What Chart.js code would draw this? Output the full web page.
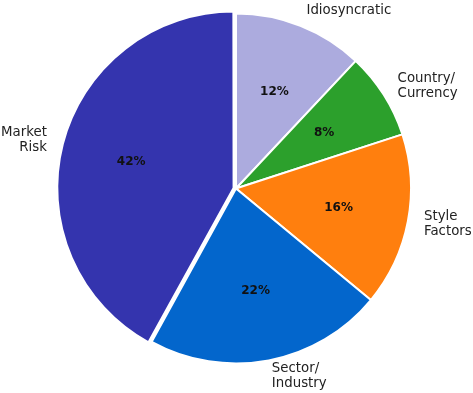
<!DOCTYPE html>
<html>
<head>
<meta charset="utf-8">
<script src="https://cdn.jsdelivr.net/npm/chart.js@4.4.1/dist/chart.umd.min.js"></script>
<style>
  html, body { margin: 0; padding: 0; background: #fff; }
  #pieCanvas { display: block; }
</style>
</head>
<body>
<canvas id="pieCanvas" width="473" height="393"></canvas>
<script>
// slices go clockwise from 12 o'clock
var labels = [['Idiosyncratic'], ['Country/', 'Currency'], ['Style', 'Factors'], ['Sector/', 'Industry'], ['Market', 'Risk']];
var shares = [12, 8, 16, 22, 42];
var sliceColors = ['#acabde', '#2ca02c', '#ff7f0e', '#0366cc', '#3434ae'];
var explode = [0, 0, 0, 0, 10];

// draws the outside names and the inner percentages
var pieLabels = {
  id: 'pieLabels',
  afterDatasetsDraw: function(chart) {
    var ctx = chart.ctx;
    var arcs = chart.getDatasetMeta(0).data;
    var total = shares.reduce(function(a, b) { return a + b; }, 0);
    ctx.save();
    ctx.textBaseline = 'middle';
    for (var i = 0; i < arcs.length; i++) {
      var p = arcs[i].getProps(['x', 'y', 'startAngle', 'endAngle', 'outerRadius'], true);
      var mid = (p.startAngle + p.endAngle) / 2;
      var circ = p.endAngle - p.startAngle;
      var off = (explode[i] || 0) / 4;
      var shift = off * (2 - Math.sin(Math.min(Math.PI, circ)));
      var cx = p.x + Math.cos(mid) * shift;
      var cy = p.y + Math.sin(mid) * shift;
      var r = p.outerRadius - 1;

      // percentage
      ctx.font = 'bold 12px "DejaVu Sans"';
      ctx.fillStyle = '#111';
      ctx.textAlign = 'center';
      var pct = Math.round(shares[i] / total * 100) + '%';
      ctx.fillText(pct, cx + Math.cos(mid) * r * 0.6, cy + Math.sin(mid) * r * 0.6);

      // name
      ctx.font = '13.33px "DejaVu Sans"';
      ctx.fillStyle = '#222';
      var lx = cx + Math.cos(mid) * r * 1.1;
      var ly = cy + Math.sin(mid) * r * 1.1;
      ctx.textAlign = Math.cos(mid) > 0 ? 'left' : 'right';
      var lines = labels[i];
      var lh = 15;
      var top = ly - (lines.length - 1) * lh / 2;
      for (var j = 0; j < lines.length; j++) {
        ctx.fillText(lines[j], lx, top + j * lh);
      }
    }
    ctx.restore();
  }
};

var ctx = document.getElementById('pieCanvas').getContext('2d');
var pieChart = new Chart(ctx, {
  type: 'pie',
  data: {
    labels: labels.map(function(l) { return l.join(' '); }),
    datasets: [{
      data: shares,
      backgroundColor: sliceColors,
      borderColor: '#ffffff',
      borderWidth: 2,
      offset: explode
    }]
  },
  options: {
    responsive: false,
    animation: false,
    radius: 175,
    layout: { padding: { left: 0, right: 1, top: 1, bottom: 17 } },
    events: [],
    plugins: {
      legend: { display: false },
      tooltip: { enabled: false }
    }
  },
  plugins: [pieLabels]
});
</script>
</body>
</html>
